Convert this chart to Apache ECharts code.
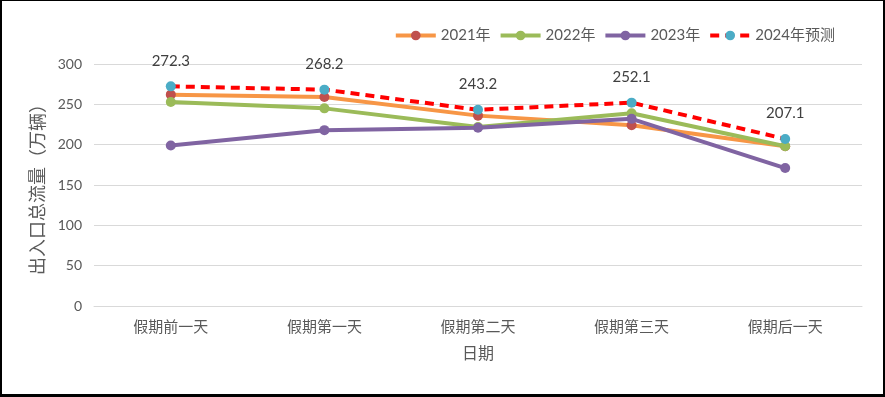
<!DOCTYPE html>
<html>
<head>
<meta charset="utf-8">
<script src="https://cdn.jsdelivr.net/npm/echarts@6/dist/echarts.min.js"></script>
<style>
  html, body { margin: 0; padding: 0; background: #fff; }
  #chart { width: 881px; height: 393px; border: 2px solid #000; border-top-width: 1px; border-bottom-width: 3px; }
</style>
</head>
<body>
<div id="chart"></div>
<script>
// 日期分类
var days = ['假期前一天', '假期第一天', '假期第二天', '假期第三天', '假期后一天']
// 各年出入口总流量（万辆）
var y2021 = [262, 259, 236, 224, 198]
var y2022 = [253, 245, 222, 239, 198]
var y2023 = [199, 218, 221, 232, 171]
var y2024 = [272.3, 268.2, 243.2, 252.1, 207.1] // 预测

var font = 'Lato, "Noto Sans CJK SC", sans-serif'
var textColor = '#595959'

var myChart = echarts.init(document.getElementById('chart'))
var option = {
  animation: false,
  textStyle: { fontFamily: font },
  legend: {
    top: 22,
    right: 43,
    itemWidth: 40,
    itemHeight: 12,
    itemGap: 8,
    lineStyle: { width: 4 },
    textStyle: { color: textColor, fontSize: 15, fontFamily: font },
    data: ['2021年', '2022年', '2023年', '2024年预测']
  },
  grid: {
    left: 92,
    right: 21,
    top: 63,
    bottom: 88
  },
  xAxis: {
    type: 'category',
    data: days,
    name: '日期',
    nameLocation: 'middle',
    nameGap: 40,
    nameTextStyle: { color: textColor, fontSize: 16, fontFamily: font },
    axisLine: { lineStyle: { color: '#d9d9d9' } },
    axisTick: { show: false },
    axisLabel: { color: textColor, fontSize: 15, margin: 14 }
  },
  yAxis: {
    type: 'value',
    min: 0,
    max: 300,
    interval: 50,
    name: '出入口总流量（万辆）',
    nameLocation: 'middle',
    nameGap: 45,
    nameRotate: 90,
    nameTextStyle: { color: textColor, fontSize: 18, fontFamily: font },
    axisLine: { show: false },
    axisTick: { show: false },
    axisLabel: { color: textColor, fontSize: 14, margin: 12 },
    splitLine: { lineStyle: { color: '#d9d9d9' } }
  },
  series: [
    {
      name: '2021年',
      type: 'line',
      data: y2021,
      symbol: 'circle',
      symbolSize: 10,
      lineStyle: { width: 4, color: '#f79646' },
      itemStyle: { color: '#c0504d' },
      z: 2
    },
    {
      name: '2022年',
      type: 'line',
      data: y2022,
      symbol: 'circle',
      symbolSize: 10,
      lineStyle: { width: 4, color: '#9bbb59' },
      itemStyle: { color: '#9bbb59' },
      z: 3
    },
    {
      name: '2023年',
      type: 'line',
      data: y2023,
      symbol: 'circle',
      symbolSize: 10,
      lineStyle: { width: 4, color: '#8064a2' },
      itemStyle: { color: '#8064a2' },
      z: 4
    },
    {
      name: '2024年预测',
      type: 'line',
      data: y2024,
      symbol: 'circle',
      symbolSize: 10,
      lineStyle: { width: 4, color: '#ff0000', type: [9, 6] },
      itemStyle: { color: '#4bacc6' },
      label: {
        show: true,
        position: 'top',
        distance: 13,
        color: '#404040',
        fontSize: 15,
        fontFamily: font
      },
      z: 5
    }
  ]
}
myChart.setOption(option)
</script>
</body>
</html>
